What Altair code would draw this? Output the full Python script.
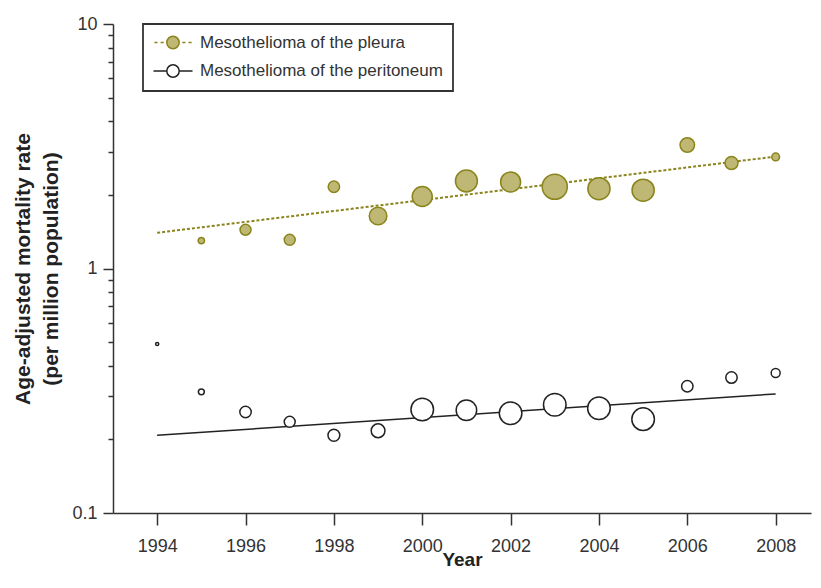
import altair as alt
import pandas as pd

# ---------------- data ----------------
series = ["Mesothelioma of the pleura", "Mesothelioma of the peritoneum"]

pleura_years = [1995, 1996, 1997, 1998, 1999, 2000, 2001, 2002, 2003, 2004, 2005, 2006, 2007, 2008]
pleura_rate = [1.30, 1.44, 1.31, 2.16, 1.64, 1.97, 2.28, 2.26, 2.16, 2.12, 2.09, 3.20, 2.70, 2.86]
pleura_weight = [4, 12, 12, 13, 31, 40, 48, 40, 63, 49, 49, 21, 17, 6]

perit_years = [1994, 1995, 1996, 1997, 1998, 1999, 2000, 2001, 2002, 2003, 2004, 2005, 2006, 2007, 2008]
perit_rate = [0.491, 0.313, 0.259, 0.236, 0.208, 0.217, 0.265, 0.263, 0.256, 0.277, 0.268, 0.242, 0.330, 0.358, 0.374]
perit_weight = [1, 3.5, 13, 12, 14, 19, 51, 42, 51, 51, 51, 51, 13, 13, 8]

trend_years = [1994, 2008]
pleura_trend = [1.40, 2.87]
perit_trend = [0.208, 0.307]

x_ticks = [1994, 1996, 1998, 2000, 2002, 2004, 2006, 2008]
y_major = [0.1, 1, 10]
y_minor = [0.2, 0.3, 0.4, 0.5, 0.6, 0.7, 0.8, 0.9, 2, 3, 4, 5, 6, 7, 8, 9]

# ---------------- styling ----------------
OLIVE_FILL = "#BFB875"
OLIVE_DARK = "#8A841C"
INK = "#222222"
TXT = "#333333"
FONT = "Liberation Sans"

points = pd.DataFrame(
    {"Series": [series[0]] * len(pleura_years) + [series[1]] * len(perit_years),
     "Year": pleura_years + perit_years,
     "Rate": pleura_rate + perit_rate,
     "Weight": pleura_weight + perit_weight}
)
trend_p = pd.DataFrame({"Series": series[0], "Year": trend_years, "Rate": pleura_trend})
trend_q = pd.DataFrame({"Series": series[1], "Year": trend_years, "Rate": perit_trend})

x_enc = alt.X(
    "Year:Q",
    scale=alt.Scale(domain=[1993, 2008.8], nice=False, zero=False),
    axis=alt.Axis(values=x_ticks, format="d", tickSize=12, tickWidth=1.5, tickColor=TXT,
                  domainColor=TXT, domainWidth=1.5, labelFont=FONT, labelFontSize=18,
                  labelColor=TXT, labelPadding=12, title="Year", titleFont=FONT,
                  titleFontSize=19, titleFontWeight="bold", titleColor=INK,
                  titleBaseline="alphabetic", titleY=52, grid=False),
)
y_scale = alt.Scale(type="log", domain=[0.1, 10], nice=False)
y_major_axis = alt.Axis(values=y_major, format="~g", tickSize=10, tickWidth=1.5, tickColor=TXT,
                        domainColor=TXT, domainWidth=1.5, labelFont=FONT, labelFontSize=18,
                        labelColor=TXT, labelPadding=6, grid=False,
                        title=["Age-adjusted mortality rate", "(per million population)"],
                        titleFont=FONT, titleFontSize=21, titleFontWeight="bold", titleColor=INK,
                        titleAngle=270, titleAlign="center", titleBaseline="middle",
                        titleLineHeight=28, titleX=-90, titleY=244.5, orient="left")
y_minor_axis = alt.Axis(values=y_minor, tickSize=5, tickWidth=1.5, tickColor=TXT, domain=False,
                        labels=False, title=None, grid=False, orient="left")

line_p = alt.Chart(trend_p).mark_line(color=OLIVE_DARK, strokeWidth=2, strokeDash=[3, 2]).encode(
    x=x_enc, y=alt.Y("Rate:Q", scale=y_scale, axis=y_major_axis)
)
line_q = alt.Chart(trend_q).mark_line(color=INK, strokeWidth=1.5).encode(
    x=x_enc, y=alt.Y("Rate:Q", scale=y_scale, axis=y_minor_axis)
)

is_pleura = alt.datum.Series == series[0]
dots = alt.Chart(points).mark_circle(opacity=1, strokeWidth=1.5).encode(
    x=x_enc,
    y=alt.Y("Rate:Q", scale=y_scale, axis=None),
    size=alt.Size("Weight:Q", scale=alt.Scale(domain=[0, 63], range=[0, 630]), legend=None),
    fill=alt.when(is_pleura).then(alt.value(OLIVE_FILL)).otherwise(alt.value("white")),
    stroke=alt.when(is_pleura).then(alt.value(OLIVE_DARK)).otherwise(alt.value(INK)),
)

# legend symbols: line + circle (custom paths in unit coordinates)
CIRCLE = "M1,0A1,1,0,1,1,-1,0A1,1,0,1,1,1,0Z"
SYM_DOTTED = "M-3,0H-2.5M-2,0H-1.5M1.5,0H2M2.5,0H3" + CIRCLE
SYM_SOLID = "M-3.15,0H-1M1,0H3.15" + CIRCLE

leg = alt.Legend(title=None, orient="none", legendX=30, legendY=0, padding=10,
                 strokeColor=TXT, symbolSize=154, symbolStrokeWidth=1.5,
                 symbolOffset=11.5, labelOffset=18.5, rowPadding=9.5,
                 labelFont=FONT, labelFontSize=17, labelColor=TXT, labelLimit=500)

legend_layer = alt.Chart(points).transform_filter("false").mark_point(
    filled=True, size=154, opacity=1, strokeWidth=1.5
).encode(
    x=x_enc,
    y=alt.Y("Rate:Q", scale=y_scale, axis=None),
    fill=alt.Fill("Series:N", scale=alt.Scale(domain=series, range=[OLIVE_FILL, "white"]), legend=leg),
    stroke=alt.Stroke("Series:N", scale=alt.Scale(domain=series, range=[OLIVE_DARK, INK]), legend=leg),
    shape=alt.Shape("Series:N", scale=alt.Scale(domain=series, range=[SYM_DOTTED, SYM_SOLID]), legend=leg),
)

chart = (
    alt.layer(line_p, line_q, dots, legend_layer)
    .resolve_axis(y="independent")
    .properties(
        width=698, height=489,
        autosize=alt.AutoSizeParams(type="none"),
        padding={"left": 105, "top": 16, "right": 2, "bottom": 62},
        background="white",
    )
    .configure_view(stroke=None)
    .configure_legend(strokeWidth=1.8)
)

chart.save("out.html", embed_options={"renderer": "svg", "actions": False})
